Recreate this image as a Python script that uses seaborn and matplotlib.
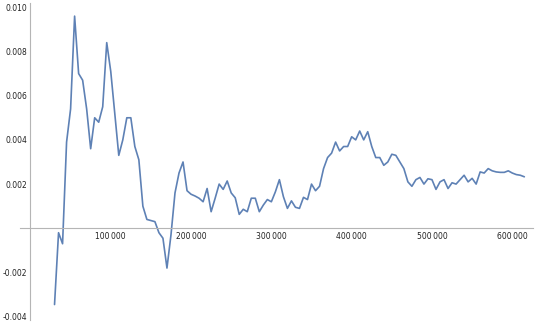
import matplotlib
matplotlib.use("Agg")
import matplotlib.pyplot as plt
import matplotlib.ticker as mticker
import seaborn as sns
import pandas as pd

# ---- data ----
values = [
    -0.00345, -0.0002, -0.0007, 0.0039, 0.0054, 0.0096, 0.0070, 0.0067, 0.0054, 0.0036,
    0.0050, 0.0048, 0.0055, 0.0084, 0.0071, 0.0052, 0.0033, 0.0040, 0.0050, 0.0050,
    0.0037, 0.0031, 0.0010, 0.0004, 0.00035, 0.0003, -0.0002, -0.00045, -0.0018, -0.0003,
    0.0016, 0.0025, 0.0030, 0.0017, 0.00154, 0.00146, 0.00136, 0.0012, 0.0018, 0.00075,
    0.00136, 0.0020, 0.00176, 0.00214, 0.0016, 0.00138, 0.00063, 0.00086, 0.00075, 0.00136,
    0.00136, 0.00075, 0.00105, 0.0013, 0.0012, 0.00165, 0.0022, 0.00143, 0.0009, 0.00124,
    0.00095, 0.0009, 0.0014, 0.0013, 0.0020, 0.0017, 0.0019, 0.0027, 0.0032, 0.0034,
    0.0039, 0.0035, 0.0037, 0.0037, 0.00414, 0.0040, 0.0044, 0.0040, 0.00437, 0.0037,
    0.0032, 0.0032, 0.00285, 0.0030, 0.00335, 0.0033, 0.0030, 0.0027, 0.0021, 0.0019,
    0.0022, 0.0023, 0.0020, 0.00224, 0.0022, 0.00176, 0.0021, 0.0022, 0.0018, 0.00206,
    0.0020, 0.0022, 0.0024, 0.0021, 0.00226, 0.0020, 0.00255, 0.0025, 0.0027, 0.0026,
    0.00255, 0.00253, 0.00253, 0.0026, 0.0025, 0.00243, 0.0024, 0.00233,
]
x_start = 30000
x_step = 5000
xs = [x_start + i * x_step for i in range(len(values))]

x_ticks = [100000, 200000, 300000, 400000, 500000, 600000]
x_tick_labels = ["100\u2009000", "200\u2009000", "300\u2009000", "400\u2009000", "500\u2009000", "600\u2009000"]
y_ticks = [-0.004, -0.002, 0.002, 0.004, 0.006, 0.008, 0.010]
y_tick_labels = ["-0.004", "-0.002", "0.002", "0.004", "0.006", "0.008", "0.010"]

df = pd.DataFrame({"x": xs, "y": values})

sns.set_style("white")
plt.rcParams["font.family"] = ["DejaVu Sans"]

W, H = 540, 324
fig = plt.figure(figsize=(W / 100, H / 100), dpi=100)
ax = fig.add_axes([20 / W, 1 - 320 / H, (533 - 20) / W, (320 - 3.3) / H])

line_color = "#5E81B5"
sns.lineplot(data=df, x="x", y="y", ax=ax, color=line_color, linewidth=1.2)

ax.set_xlim(-13000, 625800)
ax.set_ylim(-0.00415, 0.01018)

axis_color = "#b5b5b5"
for side in ["top", "right"]:
    ax.spines[side].set_visible(False)
ax.spines["left"].set_position(("data", 0))
ax.spines["bottom"].set_position(("data", 0))
for side in ["left", "bottom"]:
    ax.spines[side].set_color(axis_color)
    ax.spines[side].set_linewidth(0.8)

ax.set_xticks(x_ticks)
ax.set_xticklabels(x_tick_labels)
ax.set_yticks(y_ticks)
ax.set_yticklabels(y_tick_labels)
ax.xaxis.set_minor_locator(mticker.MultipleLocator(20000))
ax.yaxis.set_minor_locator(mticker.MultipleLocator(0.0005))

ax.tick_params(axis="both", which="major", direction="in", length=3.5, width=0.7,
               color=axis_color, labelsize=5.5, labelcolor="#222222", pad=2.5)
ax.tick_params(axis="both", which="minor", direction="in", length=2, width=0.5,
               color=axis_color)
ax.set_xlabel("")
ax.set_ylabel("")
ax.grid(False)

fig.savefig("out.png", dpi=100)
